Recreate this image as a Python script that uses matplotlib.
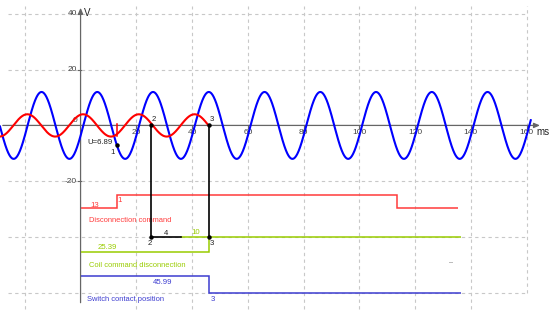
import numpy as np
import matplotlib
matplotlib.use("Agg")
import matplotlib.pyplot as plt

plt.rcParams['font.family'] = ['Liberation Sans', 'DejaVu Sans']

# ---- data ----
period_ms = 20.0
blue_amp, blue_zero = 12.0, 1.0          # rising zero crossing (ms)
red_amp, red_fall_zero = 4.0, 25.9       # falling zero crossing (ms)
blue_range = (-28.9, 161.5)
red_range = (-28.9, 45.99)

t_cmd = 13.0
t_coil = 25.39
t_contact = 45.99
u_label = "U=6.89"

red_edges = [0, 13, 113.4, 135.3]
red_levels = [-29.6, -25.0, -29.6]
green_edges = [0, 45.99, 136.5]
green_levels = [-45.3, -40.0]
green_extra = ([36.0, 45.99], [-40.0, -40.0])
black_seg = ([25.39, 36.0], [-40.0, -40.0])
blue_edges = [0, 45.99, 136.5]
blue_levels = [-54.0, -60.3]

x_ticks = [20, 40, 60, 80, 100, 120, 140, 160]
y_ticks = [40, 20, -20]

BLUE = "#0000ff"
RED = "#ff0000"
RED_T = "#ff3b3b"
GREEN = "#99cc00"
BLUE2 = "#3c3cd0"
AXC = "#666666"
GRID = "#c8c8c8"

fig = plt.figure(figsize=(5.5, 3.13), dpi=100)
ax = fig.add_axes([0, 0, 1, 1])
ax.set_xlim(-28.9, 168.4)
ax.set_ylim(-67.3, 45.0)
ax.axis("off")

# grid
for gx in [-20, 20, 40, 60, 80, 100, 120, 140]:
    ax.plot([gx, gx], [-66, 43], color=GRID, lw=0.8, ls=(0, (3, 3)), zorder=0)
ax.plot([160, 160], [-60, 43], color=GRID, lw=0.8, ls=(0, (3, 3)), zorder=0)
for gy in [40, 20, -20, -40, -60]:
    ax.plot([-26, 160], [gy, gy], color=GRID, lw=0.8, ls=(0, (3, 3)), zorder=0)

# axes
ax.annotate("", xy=(165.8, 0), xytext=(-28.9, 0),
            arrowprops=dict(arrowstyle="-|>,head_length=0.35,head_width=0.15", color=AXC, lw=0.9), zorder=1)
ax.annotate("", xy=(0, 43.2), xytext=(0, -64.6),
            arrowprops=dict(arrowstyle="-|>,head_length=0.35,head_width=0.15", color=AXC, lw=0.9), zorder=1)
for xt in x_ticks:
    ax.plot([xt, xt], [0, -0.9], color=AXC, lw=0.8)
    ax.text(xt, -2.4, str(xt), fontsize=6, color="#444444", ha="center", va="center")
for yt in y_ticks:
    ax.plot([0, -0.9], [yt, yt], color=AXC, lw=0.8)
    ax.text(-1.3, yt, str(yt), fontsize=6, color="#444444", ha="right", va="center")
ax.text(-1.2, 1.6, "0", fontsize=6, color="#444444", ha="right", va="center")
ax.text(1.2, 40.5, "V", fontsize=7, color="#222222", ha="left", va="center")
ax.text(163.5, -2.4, "ms", fontsize=7, color="#222222", ha="left", va="center")

# sine curves
tb = np.linspace(*blue_range, 2000)
blue = blue_amp * np.sin(2 * np.pi * (tb - blue_zero) / period_ms)
ax.plot(tb, blue, color=BLUE, lw=1.5, zorder=3)
tr = np.linspace(*red_range, 800)
red = red_amp * np.cos(2 * np.pi * (tr - red_fall_zero + period_ms / 4) / period_ms)
ax.plot(tr, red, color=RED, lw=1.5, zorder=4)

def red_at(t):
    return red_amp * np.cos(2 * np.pi * (t - red_fall_zero + period_ms / 4) / period_ms)

def blue_at(t):
    return blue_amp * np.sin(2 * np.pi * (t - blue_zero) / period_ms)

# red marker at command time
ax.plot([t_cmd, t_cmd], [0.5, red_at(t_cmd) - 0.5], color=RED, lw=1.1, zorder=5)
ax.plot([t_cmd], [blue_at(t_cmd)], "o", color="black", ms=2.2, zorder=6)
ax.text(11.6, -6.1, u_label, fontsize=5.6, color="#222222", ha="right", va="center")
ax.text(11.3, -9.6, "1", fontsize=5.6, color="#222222", ha="center", va="center")

# black links
ax.plot([t_coil, t_coil], [0, -40], color="black", lw=1.2, zorder=5)
ax.plot([t_contact, t_contact], [0, -40], color="black", lw=1.2, zorder=5)
ax.plot(*black_seg, color="black", lw=1.2, zorder=5)
for px, py in [(t_coil, 0), (t_contact, 0), (t_coil, -40), (t_contact, -40)]:
    ax.plot([px], [py], "o", color="black", ms=2.2, zorder=6)
ax.text(26.1, 2.2, "2", fontsize=5.6, color="#222222", ha="center", va="center")
ax.text(47.1, 2.2, "3", fontsize=5.6, color="#222222", ha="center", va="center")
ax.text(24.9, -42.4, "2", fontsize=5.6, color="#222222", ha="center", va="center")
ax.text(47.2, -42.4, "3", fontsize=5.6, color="#222222", ha="center", va="center")
ax.text(30.6, -38.6, "4", fontsize=5.6, color="#222222", ha="center", va="center")

# step signals
ax.stairs(red_levels, red_edges, color=RED_T, lw=1.1, baseline=None, zorder=3)
ax.stairs(green_levels, green_edges, color=GREEN, lw=1.1, baseline=None, zorder=3)
ax.plot(*green_extra, color=GREEN, lw=1.1, zorder=3)
ax.stairs(blue_levels, blue_edges, color=BLUE2, lw=1.1, baseline=None, zorder=3)

ax.text(4.9, -28.6, "13", fontsize=5.6, color=RED_T, ha="center", va="center")
ax.text(13.9, -27.0, "1", fontsize=5.6, color=RED_T, ha="center", va="center")
ax.text(3.1, -34.2, "Disconnection command", fontsize=5.4, color=RED_T, ha="left", va="center")
ax.text(41.4, -38.4, "10", fontsize=5.6, color=GREEN, ha="center", va="center")
ax.text(9.6, -43.9, "25.39", fontsize=5.6, color=GREEN, ha="center", va="center")
ax.text(3.2, -50.1, "Coil command disconnection", fontsize=5.4, color=GREEN, ha="left", va="center")
ax.text(29.4, -56.5, "45.99", fontsize=5.6, color=BLUE2, ha="center", va="center")
ax.text(2.2, -62.3, "Switch contact position", fontsize=5.4, color=BLUE2, ha="left", va="center")
ax.text(47.3, -62.3, "3", fontsize=5.6, color=BLUE2, ha="center", va="center")
ax.plot([132.2, 133.4], [-48.9, -48.9], color="#bbbbbb", lw=0.7)

fig.savefig("out.png", dpi=100)
